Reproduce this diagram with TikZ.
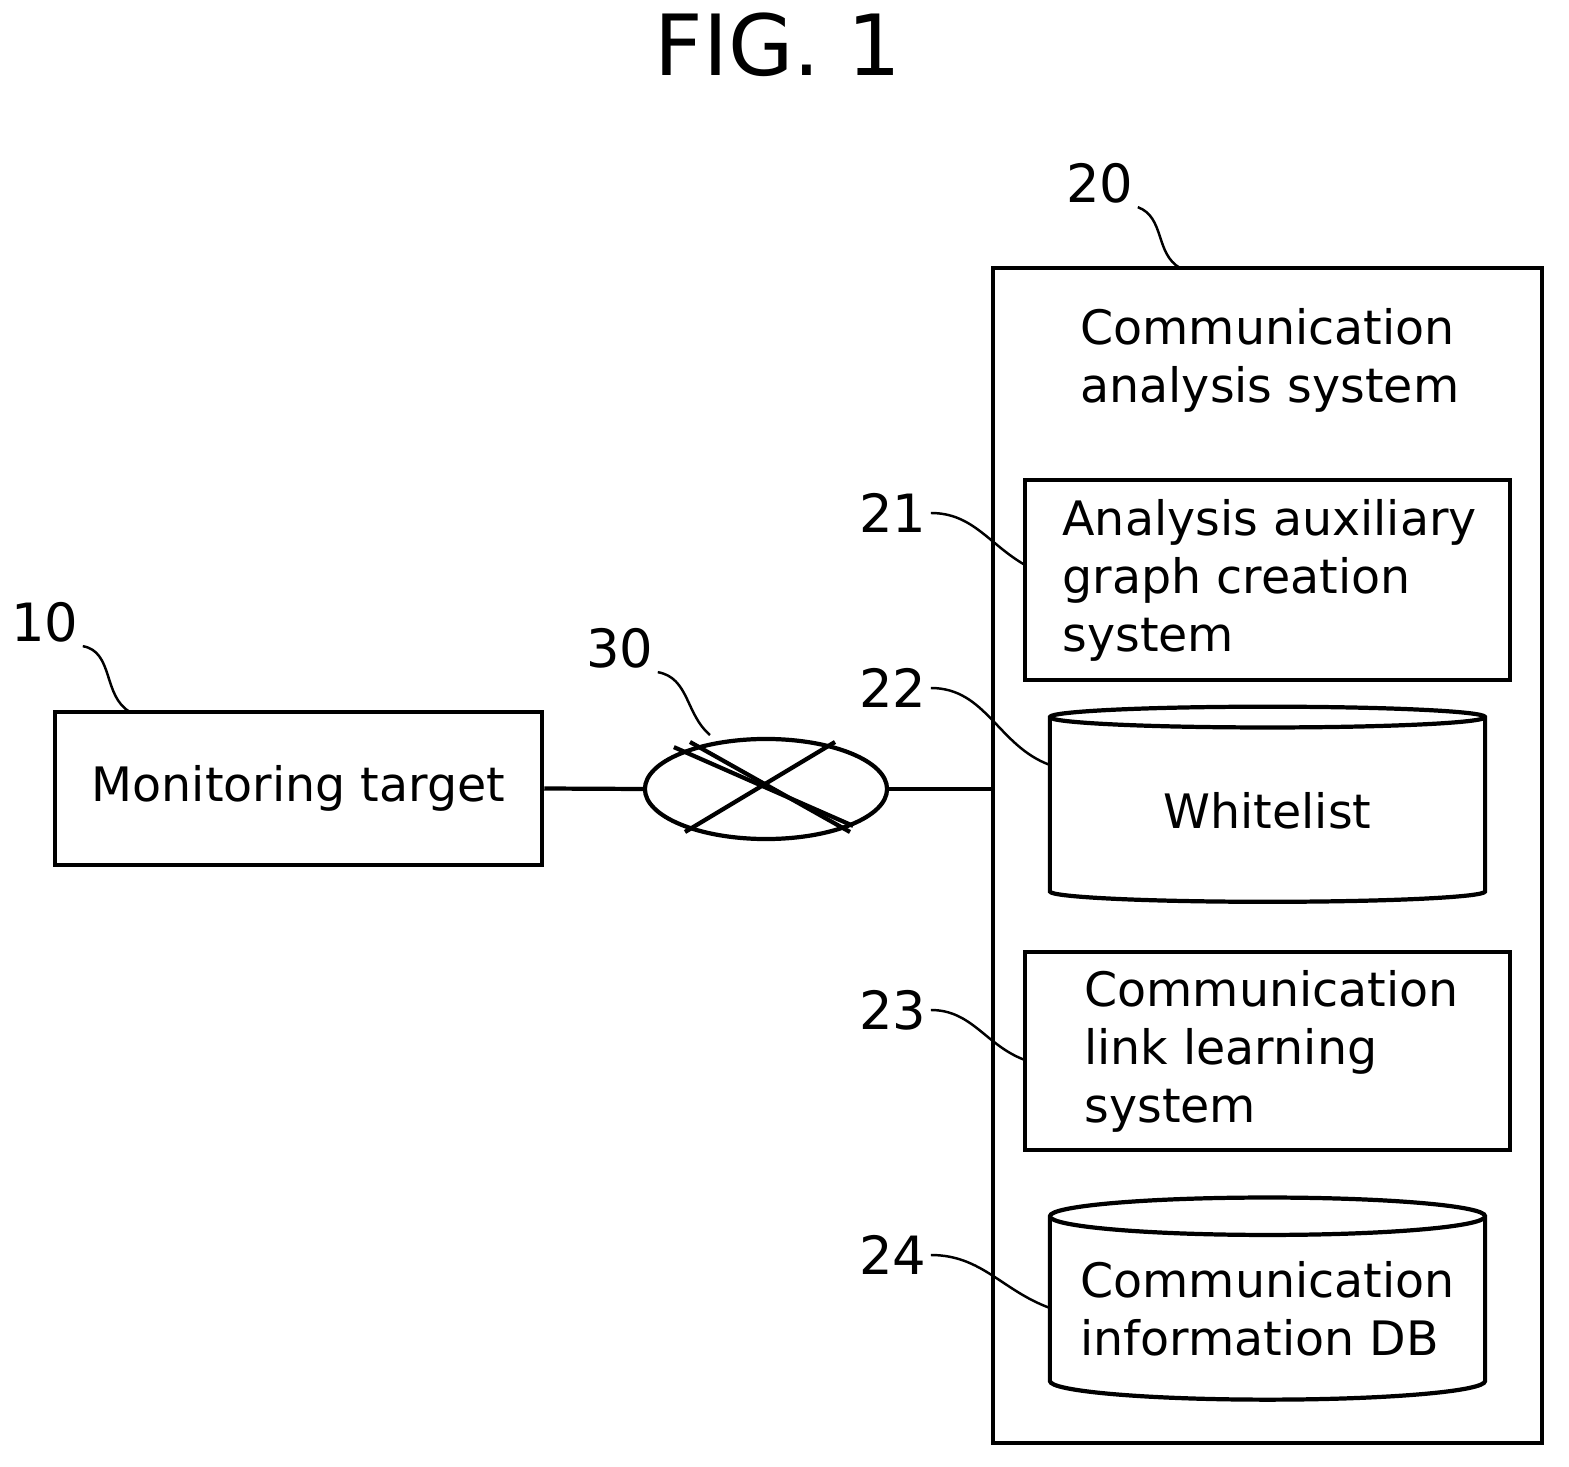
\documentclass[tikz,border=0pt]{standalone}
\usepackage{fontspec}
\setmainfont{DejaVu Sans}
\usetikzlibrary{positioning,shapes.geometric}
\tikzset{
  block/.style={rectangle, draw, line width=1.2pt, inner sep=0pt},
  store/.style={cylinder, draw, line width=1.2pt, shape border rotate=90, aspect=0.1,
                minimum width=4.35cm, inner sep=0pt, align=left},
  num/.style={font=\fontsize{15}{18}\selectfont, inner sep=1pt},
  lead/.style={draw, line width=0.7pt},
  line/.style={draw, line width=1.2pt}
}
\begin{document}
\begin{tikzpicture}[x=0.01cm, y=-0.01cm, font=\fontsize{13.5}{16.5}\selectfont]
    \useasboundingbox (0,0) rectangle (1569,1467);

    % title
    \node [font=\fontsize{24}{28}\selectfont] (title) at (778,45) {FIG. 1};

    % Monitoring target
    \node [block, minimum width=4.87cm, minimum height=1.53cm] (target) at (298.5,788.5) {Monitoring target};
    \node [num] (n10) at (45,622) {10};
    \draw [lead] (n10.south east) to[out=-10,in=150] (130,712);

    % network
    \node [ellipse, draw, line width=1.2pt, minimum width=2.42cm, minimum height=1cm] (net) at (766,789) {};
    \draw [line] (net.north west) ++(-5,-5) -- (net.south east) ++(5,5);
    \draw [line] (690,742) -- (850,832);
    \draw [line] (685,832) -- (835,742);
    \node [num] (n30) at (620,648) {30};
    \draw [lead] (n30.south east) to[out=-10,in=140] (710,735);

    % Communication analysis system
    \node [block, minimum width=5.49cm, minimum height=11.75cm] (cas) at (1267.5,855.5) {};
    \node [align=left, anchor=north west] (castext) at (1068,296) {Communication\\analysis system};
    \node [num] (n20) at (1100,183) {20};
    \draw [lead] (n20.south east) to[out=-20,in=150] (1180,268);

    % 21
    \node [block, minimum width=4.85cm, minimum height=2cm] (graph) at (1267.5,580) {};
    \node [align=left, anchor=west] (graphtext) at (1050,580) {Analysis auxiliary\\graph creation\\system};
    \node [num] (n21) at (893,513) {21};
    \draw [lead] (n21.east) to[out=0,in=150] (1025,565);

    % 22
    \node [store, minimum height=1.95cm] (white) at (1267.5,810.5) {Whitelist};
    \node [num] (n22) at (893,688) {22};
    \draw [lead] (n22.east) to[out=0,in=160] (1050,765);

    % 23
    \node [block, minimum width=4.85cm, minimum height=1.98cm] (learn) at (1267.5,1051) {};
    \node [align=left, anchor=west] (learntext) at (1072,1051) {Communication\\link learning\\system};
    \node [num] (n23) at (893,1010) {23};
    \draw [lead] (n23.east) to[out=0,in=160] (1025,1060);

    % 24
    \node [store, minimum height=2.02cm] (db) at (1267.5,1309) {Communication\\information DB};
    \node [num] (n24) at (893,1255) {24};
    \draw [lead] (n24.east) to[out=0,in=160] (1050,1308);

    % Path
    \draw [line] (target.east) -- (net.west);
    \draw [line] (net.east) -- (net.east -| cas.west);
\end{tikzpicture}
\end{document}
